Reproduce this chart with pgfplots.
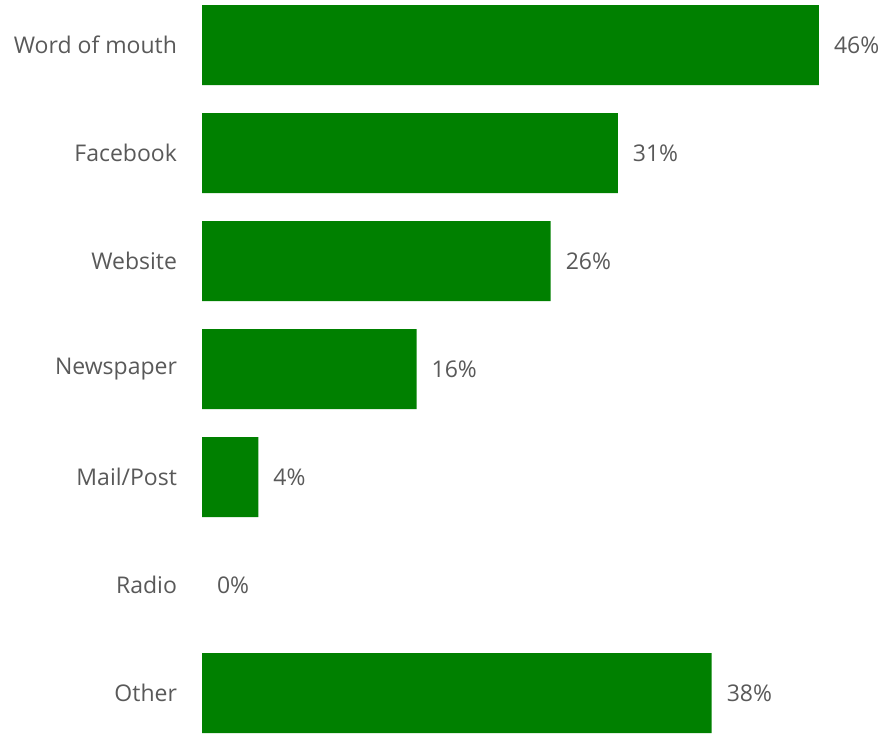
\documentclass[border=0pt]{standalone}
\usepackage{pgfplots}
\pgfplotsset{compat=1.18}
\usepackage{fontspec}
\setmainfont{Open Sans}
\definecolor{bargreen}{HTML}{008000}
\definecolor{txtgray}{HTML}{595959}
\begin{document}
\begin{tikzpicture}
\useasboundingbox (0,0) rectangle (442.5pt,367.5pt);
\begin{axis}[
  at={(101pt,-6pt)}, anchor=south west,
  scale only axis,
  width=308.5pt, height=378pt,
  xmin=0, xmax=46,
  ymin=-0.5, ymax=6.5,
  xbar, bar width=40pt,
  axis lines=none,
  clip=false,
  point meta=explicit symbolic,
  nodes near coords,
  nodes near coords style={font=\fontsize{11.5}{13}\selectfont, text=txtgray, anchor=west, xshift=4pt},
]
\addplot[fill=bargreen, draw=none] coordinates {
  (38,0) [38\%] (4.2,2) [4\%] (16,3) [16\%] (26,4) [26\%] (31,5) [31\%] (46,6) [46\%]
};
\end{axis}
\begin{axis}[
  at={(101pt,-6pt)}, anchor=south west,
  scale only axis,
  width=308.5pt, height=378pt,
  xmin=0, xmax=46,
  ymin=-0.5, ymax=6.5,
  hide x axis,
  axis y line*=left,
  y axis line style={draw=none},
  ytick={0,1,2,3,4,5,6},
  yticklabels={Other,Radio,Mail/Post,Newspaper,Website,Facebook,Word of mouth},
  major tick length=0pt,
  yticklabel style={font=\fontsize{11.5}{13}\selectfont, text=txtgray, xshift=-9pt},
  clip=false,
  point meta=explicit symbolic,
]
\addplot[draw=none, mark=none, nodes near coords,
  nodes near coords style={font=\fontsize{11.5}{13}\selectfont, text=txtgray, anchor=west, xshift=4pt}]
  coordinates {(0,1) [0\%]};
\end{axis}
\end{tikzpicture}
\end{document}
